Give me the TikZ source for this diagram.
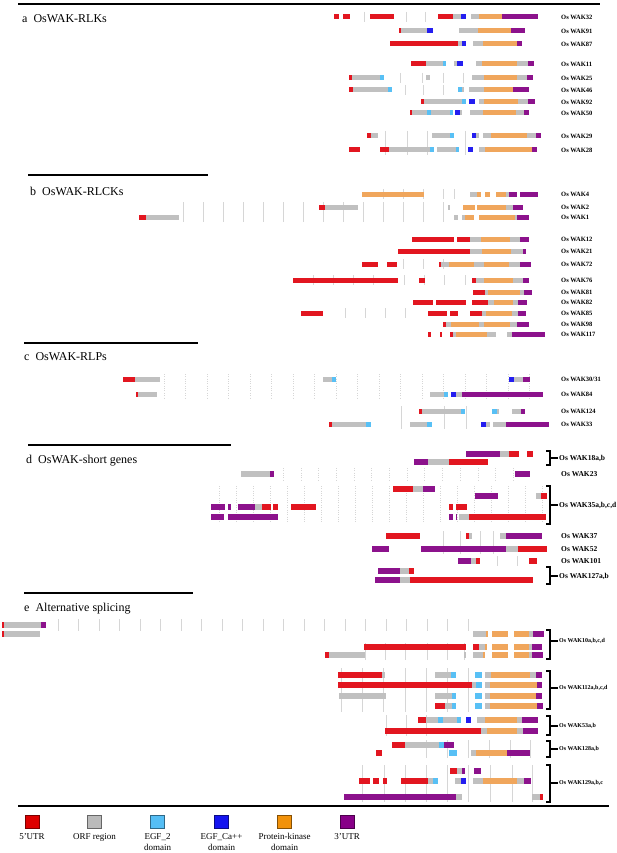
\documentclass[tikz,border=0pt]{standalone}
\usepackage{fontspec}
\setmainfont{Liberation Serif}
\usetikzlibrary{positioning}

% Farben der Genabschnitte
\definecolor{U}{RGB}{226,22,32}   % 5'UTR
\definecolor{G}{RGB}{192,192,192} % ORF
\definecolor{E}{RGB}{88,192,245}  % EGF_2
\definecolor{C}{RGB}{36,30,240}   % EGF_Ca++
\definecolor{K}{RGB}{240,166,92}  % Kinase
\definecolor{P}{RGB}{140,18,140}  % 3'UTR

% eine Genzeile: y, halbe Hoehe, Stuecke a/b/Farbe
\newcommand{\zeile}[3]{\foreach \xa/\xb/\fb in {#3} \fill[fill=\fb] (\xa,#1-#2) rectangle (\xb,#1+#2);}
% Intron-Striche
\newcommand{\striche}[4][intron]{\foreach \x in {#4} \draw[#1] (\x,#2) -- (\x,#3);}

\begin{document}
\begin{tikzpicture}[x=1pt, y=-1pt,
    genname/.style={anchor=west, inner sep=1pt, font=\fontsize{6.5}{7}\selectfont\bfseries},
    gennamed/.style={genname, font=\fontsize{7.5}{9}\selectfont\bfseries},
    gennamee/.style={genname, font=\fontsize{6}{7}\selectfont\bfseries},
    kopf/.style={anchor=base west, inner sep=0pt, font=\fontsize{12}{14}\selectfont},
    trenn/.style={line width=1.5pt},
    klammer/.style={line width=1.2pt},
    intron/.style={draw=black!16, line width=0.35pt},
    intronp/.style={intron, dotted},
    legfeld/.style={minimum width=14pt, minimum height=13pt, inner sep=0pt, line width=0.8pt},
    legtext/.style={align=center, inner sep=0pt, font=\fontsize{9}{11}\selectfont}]
    \useasboundingbox (0,0) rectangle (616,853);

    % Trennlinien und Ueberschriften
    \draw[line width=2pt] (18,4) -- (600,4);
    \draw[trenn] (28,175) -- (208,175);
    \draw[trenn] (24,343) -- (198,343);
    \draw[trenn] (28,445) -- (231,445);
    \draw[trenn] (24,593) -- (193,593);
    \draw[line width=2pt] (18,806) -- (609,806);
    \node[kopf] (ka) at (22,23) {a\ \ OsWAK-RLKs};
    \node[kopf] (kb) at (30,195) {b\ \ OsWAK-RLCKs};
    \node[kopf] (kc) at (24,360) {c\ \ OsWAK-RLPs};
    \node[kopf] (kd) at (26,463) {d\ \ OsWAK-short genes};
    \node[kopf] (ke) at (24,611) {e\ \ Alternative splicing};

    % Introns
    \striche{12}{22}{364,406,425}
    \striche{73}{83}{400,422,443,463}
    \striche{85}{95}{405,423,443}
    \striche{131}{155}{385,407,427,465}
    \striche{189}{199}{383,403,423,443,454}
    \striche{202}{222}{183,203,...,443}
    \striche{259}{269}{403,423,443}
    \striche{275}{285}{313,333,353,373,404,424,444,465}
    \striche{308}{318}{345,365,385,405}
    \striche[intronp]{374}{399}{164,185.5,...,531}
    \striche{406}{429}{401,444,466}
    \striche[intronp]{468}{480}{283,300.7,...,514}
    \striche[intronp]{486}{522}{219,236,...,542}
    \striche{531}{554}{443,460,480,493}
    \striche{556}{566}{497,517}
    \striche{619}{631}{58,78.5,...,469}
    \striche{643}{660}{365,385,405,427,447,464}
    \striche{668}{712}{341,362,383,405,426,447,468}
    \striche{715}{736}{386,406,426}
    \striche{740}{758}{426,447,468,489,510,530}
    \striche{765}{802}{362,384,405,426,447,468,490,512,532}

    % a: OsWAK-RLKs
    \zeile{17}{2.5}{334/339/U, 343/350/U, 370/394/U, 438/453/U, 453/461/G, 461/466/C, 471/479/G, 479/502/K, 502/538/P}
    \zeile{31}{2.5}{399/401/U, 401/427/G, 427/433/C, 459/478/G, 478/511/K, 511/525/P}
    \zeile{44}{2.5}{390/458/U, 458/462/G, 462/466/C, 473/483/G, 483/517/K, 517/522/P}
    \zeile{64}{2.5}{411/426/U, 426/443/G, 443/446/E, 454/457/G, 457/463/C, 476/482/G, 482/517/K, 517/528/G, 528/534/P}
    \zeile{78}{2.5}{349/352/U, 352/380/G, 380/384/E, 426/430/G, 472/484/G, 484/517/K, 517/527/G, 527/533/P}
    \zeile{90}{2.5}{349/353/U, 353/388/G, 388/392/E, 458/462/E, 462/464/G, 469/484/G, 484/513/K, 513/529/P}
    \zeile{102}{2.5}{421/424/U, 424/462/G, 462/466/E, 469/475/C, 479/484/G, 484/518/K, 518/528/G, 528/535/P}
    \zeile{113}{2.5}{410/412/U, 412/427/G, 427/431/E, 431/450/G, 450/453/E, 455/460/C, 460/462/G, 470/483/G, 483/516/K, 516/524/G, 524/529/P}
    \zeile{136}{2.5}{367/371/U, 371/378/G, 432/450/G, 450/454/E, 472/476/C, 476/479/G, 483/491/G, 491/527/K, 527/536/G, 536/541/P}
    \zeile{150}{2.5}{349/360/U, 380/389/U, 389/430/G, 430/434/E, 437/456/G, 456/459/E, 468/473/C, 479/485/G, 485/532/K, 532/537/P}
    \foreach \y/\n in {17/32, 31/91, 44/87, 64/11, 78/25, 90/46, 102/92, 113/50, 136/29, 150/28}
      \node[genname] (wak\n) at (560,\y) {Os WAK\n};

    % b: OsWAK-RLCKs
    \zeile{194}{2.5}{362/424/K, 470/477/G, 477/481/K, 485/490/K, 496/506/K, 506/509/G, 509/517/P, 520/538/P}
    \zeile{207}{2.5}{319/325/U, 325/358/G, 448/450/G, 463/475/K, 477/506/K, 506/513/G, 513/523/P}
    \zeile{217}{2.5}{139/146/U, 146/179/G, 454/458/G, 462/465/G, 465/474/K, 479/515/K, 515/517/G, 517/529/P}
    \zeile{239}{2.5}{412/454/U, 457/470/U, 470/481/G, 481/510/K, 510/520/G, 520/529/P}
    \zeile{251}{2.5}{398/470/U, 470/482/G, 482/511/K, 511/523/G, 523/526/P}
    \zeile{264}{2.5}{362/378/U, 387/397/U, 439/441/U, 441/449/G, 449/474/K, 474/484/G, 484/509/K, 509/520/G, 520/531/P}
    \zeile{280}{2.5}{293/398/U, 419/425/U, 472/476/U, 476/484/G, 484/513/K, 513/523/G, 523/529/P}
    \zeile{292}{2.5}{473/485/U, 485/488/G, 488/520/K, 520/524/G, 524/532/P}
    \zeile{302}{2.5}{413/433/U, 436/466/U, 472/488/U, 488/494/G, 494/513/K, 513/518/G, 518/527/P}
    \zeile{313}{2.5}{301/323/U, 428/447/U, 450/458/U, 470/482/U, 482/486/G, 486/512/K, 512/518/G, 518/526/P}
    \zeile{324}{2.5}{443/446/U, 446/451/G, 451/479/K, 479/484/G, 484/510/K, 510/517/G, 517/529/P}
    \zeile{334}{2.5}{428/431/U, 440/442/U, 450/453/U, 453/456/G, 456/487/K, 487/496/G, 507/512/G, 512/545/P}
    \foreach \y/\n in {194/4, 207/2, 217/1, 239/12, 251/21, 264/72, 280/76, 292/81, 302/82, 313/85, 324/98, 334/117}
      \node[genname] (wak\n) at (560,\y) {Os WAK\n};

    % c: OsWAK-RLPs
    \zeile{379}{2.5}{123/135/U, 135/160/G, 323/332/G, 332/336/E, 509/514/C, 514/523/G, 523/530/P}
    \zeile{394}{2.5}{136/138/U, 138/157/G, 430/444/G, 444/448/E, 451/456/C, 456/462/G, 462/543/P}
    \zeile{411}{2.5}{419/422/U, 422/461/G, 461/465/E, 492/497/E, 497/499/G, 512/521/G, 521/525/P}
    \zeile{424}{2.5}{329/332/U, 332/366/G, 366/371/E, 410/427/G, 427/432/E, 481/486/C, 486/490/G, 493/506/G, 506/549/P}
    \node[genname] (wak30) at (560,379) {Os WAK30/31};
    \node[genname] (wak84) at (560,394) {Os WAK84};
    \node[genname] (wak124) at (560,411) {Os WAK124};
    \node[genname] (wak33) at (560,424) {Os WAK33};

    % d: kurze Gene
    \zeile{454}{3}{466/500/P, 500/509/G, 509/519/U, 527/533/U}
    \zeile{462}{3}{414/428/P, 428/449/G, 449/488/U}
    \zeile{474}{3}{241/270/G, 270/274/P, 515/530/P}
    \zeile{489}{3}{393/413/U, 413/423/G, 423/435/P}
    \zeile{496}{3}{475/498/P, 536/541/G, 541/547/U}
    \zeile{507}{3}{211/225/P, 228/231/P, 238/255/P, 255/262/G, 262/271/U, 273/278/U, 291/316/U, 449/453/U, 456/467/U}
    \zeile{517}{3}{211/224/P, 228/278/P, 449/453/P, 456/457/P, 459/469/G, 469/546/U}
    \zeile{536}{3}{386/420/U, 466/469/U, 469/472/G, 500/506/G, 506/542/P}
    \zeile{549}{3}{372/389/P, 421/506/P, 506/518/G, 518/547/U}
    \zeile{561}{3}{458/471/P, 471/476/G, 476/480/U, 529/537/U}
    \zeile{571}{3}{378/400/P, 400/409/G, 409/414/U}
    \zeile{580}{3}{375/400/P, 400/410/G, 410/533/U}
    \node[gennamed] (wak18) at (558,458) {Os WAK18a,b};
    \node[gennamed] (wak23) at (560,474) {Os WAK23};
    \node[gennamed] (wak35) at (558,505) {Os WAK35a,b,c,d};
    \node[gennamed] (wak37) at (560,536) {Os WAK37};
    \node[gennamed] (wak52) at (560,549) {Os WAK52};
    \node[gennamed] (wak101) at (560,561) {Os WAK101};
    \node[gennamed] (wak127) at (558,576) {Os WAK127a,b};

    % e: alternatives Spleissen
    \zeile{625}{2.6}{2/4/U, 4/41/G, 41/46/P}
    \zeile{634}{2.6}{2/4/U, 4/40/G, 473/486/G, 486/488/K, 492/508/K, 514/529/K, 529/533/G, 533/544/P}
    \zeile{647}{2.6}{364/466/U, 473/479/U, 479/485/G, 485/487/K, 492/508/K, 514/529/K, 529/532/G, 532/542/P}
    \zeile{655}{2.6}{325/329/U, 329/365/G, 464/466/G, 473/483/G, 483/485/K, 492/508/K, 514/529/K, 529/532/G, 532/543/P}
    \zeile{675}{2.6}{338/382/U, 382/385/G, 435/451/G, 451/456/E, 475/482/E, 485/491/G, 491/530/K, 530/536/G, 536/542/P}
    \zeile{685}{2.6}{338/472/U, 472/476/G, 476/482/E, 485/490/G, 490/537/K, 537/542/P}
    \zeile{696}{2.6}{339/386/G, 435/452/G, 452/456/E, 475/482/E, 485/490/G, 490/536/K, 536/542/P}
    \zeile{706}{2.6}{435/445/U, 445/452/G, 452/456/E, 475/482/E, 485/490/G, 490/537/K, 537/543/P}
    \zeile{720}{2.6}{418/426/U, 426/438/G, 438/443/E, 443/457/G, 457/461/E, 466/471/C, 477/485/G, 485/517/K, 517/522/G, 522/538/P}
    \zeile{731}{2.6}{385/481/U, 481/487/G, 487/517/K, 517/523/G, 523/538/P}
    \zeile{745}{2.6}{392/405/U, 405/439/G, 439/444/E, 444/454/P}
    \zeile{753}{2.6}{376/382/U, 449/457/E, 471/476/G, 476/507/K, 507/530/P}
    \zeile{771}{2.6}{450/457/U, 457/462/G, 462/465/P, 474/481/P}
    \zeile{781}{2.6}{359/370/U, 373/379/U, 383/387/U, 401/428/U, 428/433/G, 433/438/E, 455/461/G, 461/466/C, 473/483/G, 483/517/K, 517/524/G, 524/531/P}
    \zeile{797}{2.6}{344/456/P, 456/462/G, 532/540/G, 540/543/U}
    \node[gennamee] (wak10) at (558,641) {Os WAK10a,b,c,d};
    \node[gennamee] (wak112) at (558,688) {Os WAK112a,b,c,d};
    \node[gennamee] (wak53) at (558,726) {Os WAK53a,b};
    \node[gennamee] (wak128) at (558,749) {Os WAK128a,b};
    \node[gennamee] (wak129) at (558,783) {Os WAK129a,b,c};

    % Klammern
    \foreach \ya/\yb/\ym/\n in {451/465/458/18, 486/524/505/35, 567/584/576/127, 630/659/641/10, 671/709/688/112, 716/735/726/53, 741/757/749/128, 765/802/783/129}
    {
      \draw[klammer] (546,\ya) -| (550,\yb) -- (546,\yb);
      \draw[klammer] (550,\ym) -- (wak\n.west);
    }

    % Legende
    \definecolor{LU}{RGB}{222,0,0}
    \definecolor{LG}{RGB}{186,186,186}
    \definecolor{LE}{RGB}{85,190,245}
    \definecolor{LC}{RGB}{20,20,240}
    \definecolor{LK}{RGB}{242,146,10}
    \definecolor{LP}{RGB}{136,0,136}
    \foreach \f/\t/\x [count=\i] in {LU/{5’UTR}/32, LG/{ORF region}/94.5, LE/{EGF\_2\\domain}/157.5,
                                     LC/{EGF\_Ca++\\domain}/221.5, LK/{Protein-kinase\\domain}/284.5, LP/{3’UTR}/347}
    {
      \node[legfeld, fill=\f, draw=\f!55!black] (leg\i) at (\x,821.5) {};
      \node[legtext, below=5pt of leg\i] (legt\i) {\t};
    }
\end{tikzpicture}
\end{document}
